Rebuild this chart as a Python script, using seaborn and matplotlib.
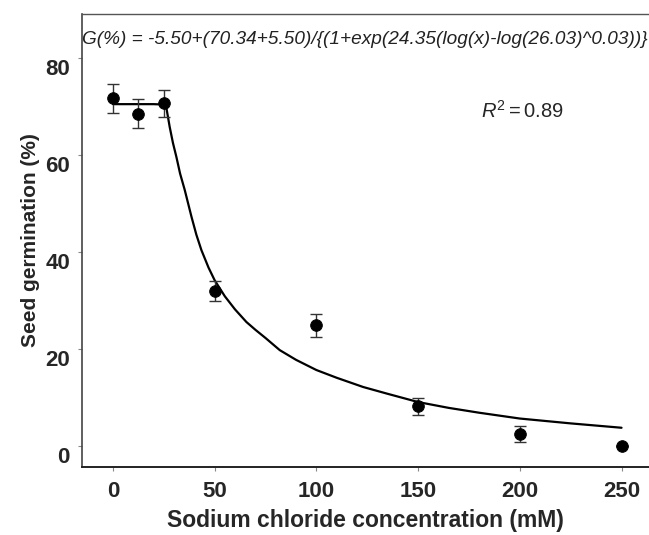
import numpy as np
import pandas as pd
import seaborn as sns
import matplotlib.pyplot as plt
from matplotlib.transforms import ScaledTranslation

# observed germination (mean +- error)
nacl = [0, 12.5, 25, 50, 100, 150, 200, 250]
germ = [71.7, 68.5, 70.7, 32.0, 24.9, 8.2, 2.5, 0.0]
germ_err = [3.0, 3.0, 2.8, 2.1, 2.3, 1.7, 1.7, 0.0]

# fitted curve
curve_x = [0, 10, 20, 26, 27.9, 29.5, 31.2, 33, 35.3, 38.6, 41, 43.5, 47, 50, 55, 60,
           65.6, 70, 75, 82, 90, 100, 110, 123, 135, 150, 165, 180, 200, 225, 250]
curve_y = [70.5, 70.5, 70.5, 70.4, 65.8, 62.5, 59.6, 56.2, 52.8, 47.3, 43.6, 40.4, 36.8, 34.2, 30.9, 28.2,
           25.6, 24.0, 22.3, 19.8, 17.8, 15.7, 14.1, 12.2, 10.8, 9.1, 7.9, 6.9, 5.7, 4.7, 3.8]

equation = 'G(%) = -5.50+(70.34+5.50)/{(1+exp(24.35(log(x)-log(26.03)^0.03))}'
r2_text = r'$R^2 = \mathrm{0.89}$'

sns.set_style('ticks')
plt.rcParams['font.family'] = ['Liberation Sans', 'DejaVu Sans']
plt.rcParams['mathtext.fontset'] = 'custom'
plt.rcParams['mathtext.it'] = 'Liberation Sans:italic'
plt.rcParams['mathtext.rm'] = 'Liberation Sans'

df_obs = pd.DataFrame({'nacl': nacl, 'germ': germ, 'err': germ_err})
df_fit = pd.DataFrame({'x': curve_x, 'y': curve_y})

fig = plt.figure(figsize=(6.49, 5.35), dpi=100)
ax = fig.add_axes([0.127, 0.127, 0.873, 0.847])

sns.lineplot(data=df_fit, x='x', y='y', color='black', linewidth=1.6, ax=ax, zorder=2)
ax.errorbar(df_obs['nacl'], df_obs['germ'], yerr=df_obs['err'], fmt='none',
            ecolor='#333333', elinewidth=1.0, capsize=4, capthick=1.0, zorder=3)
sns.scatterplot(data=df_obs, x='nacl', y='germ', color='black', s=70,
                edgecolor='black', ax=ax, zorder=4)

ax.set_xlim(-15, 263.5)
ax.set_ylim(-4.3, 89.1)
ax.set_xticks([0, 50, 100, 150, 200, 250])
ax.set_yticks([0, 20, 40, 60, 80])
ax.tick_params(axis='both', labelsize=16, length=3, width=0.8, color='#888888')
ax.tick_params(axis='x', pad=7)
ax.tick_params(axis='y', pad=6)
for lab in ax.get_xticklabels() + ax.get_yticklabels():
    lab.set_fontweight('bold')
# y tick labels sit a little below their ticks in the original
for lab in ax.get_yticklabels():
    lab.set_transform(lab.get_transform() + ScaledTranslation(0, -0.09, fig.dpi_scale_trans))

ax.set_xlabel('Sodium chloride concentration (mM)', fontsize=16.5, fontweight='bold', labelpad=5)
ax.set_ylabel('Seed germination (%)', fontsize=15, fontweight='bold', labelpad=4)

ax.spines['right'].set_visible(False)
ax.spines['left'].set_color('#444444')
ax.spines['left'].set_linewidth(1.2)
ax.spines['bottom'].set_color('#222222')
ax.spines['bottom'].set_linewidth(1.4)
ax.spines['top'].set_color('#555555')
ax.spines['top'].set_linewidth(1.0)

ax.text(0.0, 0.943, equation, transform=ax.transAxes, fontsize=13.7,
        style='italic', ha='left', va='center', color='#222222')
ax.text(0.703, 0.785, r2_text, transform=ax.transAxes, fontsize=14.5,
        ha='left', va='center')

plt.savefig('out.png', dpi=100)
plt.close('all')
